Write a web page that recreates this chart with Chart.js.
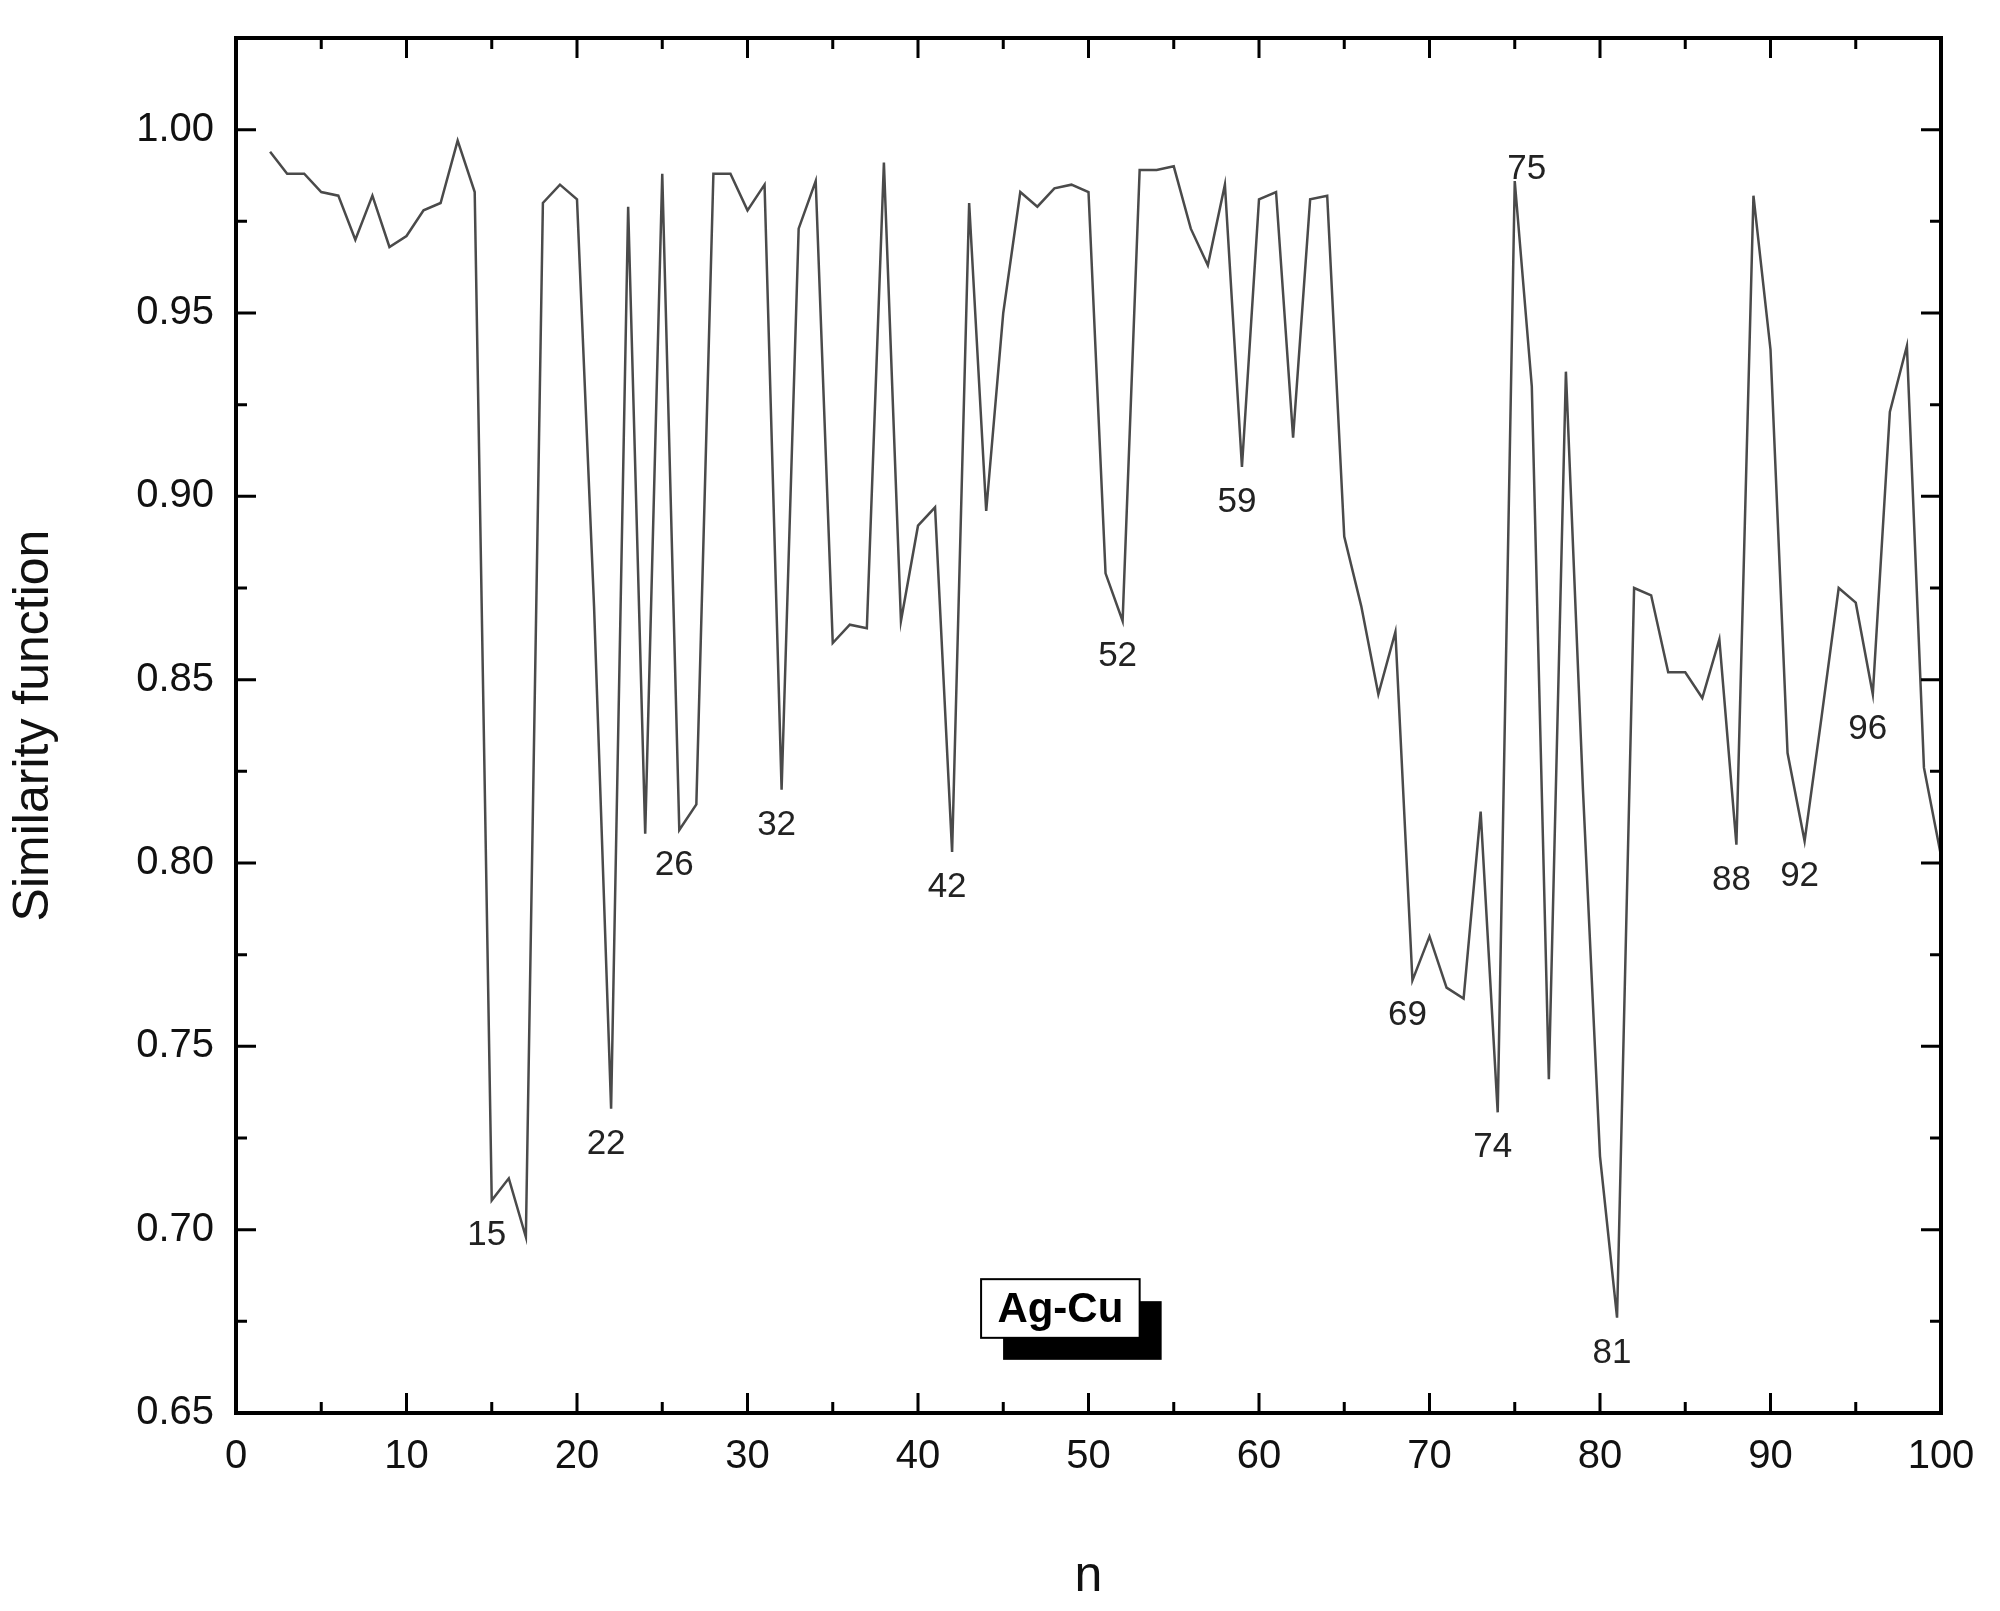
<!DOCTYPE html>
<html>
<head>
<meta charset="utf-8">
<script src="https://cdn.jsdelivr.net/npm/chart.js@4"></script>
<style>
  body { margin: 0; background: #fff; }
  canvas { display: block; }
</style>
</head>
<body>
<canvas id="chart" width="2000" height="1611"></canvas>
<script>
"use strict";

const nValues = [];
for (let n = 2; n <= 100; n++) nValues.push(n);

const similarity = [
    0.994, 0.988, 0.988, 0.983, 0.982, 0.970, 0.982, 0.968, 0.971, 0.978,
    0.980, 0.997, 0.983, 0.708, 0.714, 0.698, 0.980, 0.985, 0.981, 0.870,
    0.733, 0.979, 0.808, 0.988, 0.809, 0.816, 0.988, 0.988, 0.978, 0.985,
    0.820, 0.973, 0.986, 0.860, 0.865, 0.864, 0.991, 0.866, 0.892, 0.897,
    0.803, 0.980, 0.896, 0.950, 0.983, 0.979, 0.984, 0.985, 0.983, 0.879,
    0.866, 0.989, 0.989, 0.990, 0.973, 0.963, 0.985, 0.908, 0.981, 0.983,
    0.916, 0.981, 0.982, 0.889, 0.870, 0.846, 0.863, 0.768, 0.780, 0.766,
    0.763, 0.814, 0.732, 0.986, 0.930, 0.741, 0.934, 0.820, 0.720, 0.676,
    0.875, 0.873, 0.852, 0.852, 0.845, 0.861, 0.805, 0.982, 0.940, 0.830,
    0.806, 0.840, 0.875, 0.871, 0.846, 0.923, 0.941, 0.826, 0.802
];

const markedN = [15, 22, 26, 32, 42, 52, 59, 69, 74, 75, 81, 88, 92, 96];
const markedAbove = [75];

const xTicks = [0, 10, 20, 30, 40, 50, 60, 70, 80, 90, 100];
const yTicks = [0.65, 0.70, 0.75, 0.80, 0.85, 0.90, 0.95, 1.00];

const points = nValues.map((n, i) => ({ x: n, y: similarity[i] }));
const fontFamily = 'Arial, "Liberation Sans", sans-serif';

// inward ticks on all four sides, frame, point labels and the Ag-Cu box
const framePlugin = {
    id: 'frame',
    afterDraw(chart) {
        const ctx = chart.ctx;
        const a = chart.chartArea;
        const xs = chart.scales.x, ys = chart.scales.y;
        ctx.save();
        ctx.strokeStyle = '#000';
        ctx.lineWidth = 3;
        for (let v = 0; v <= 100; v += 5) {
            const px = xs.getPixelForValue(v);
            const len = v % 10 === 0 ? 20 : 11;
            ctx.beginPath();
            ctx.moveTo(px, a.bottom); ctx.lineTo(px, a.bottom - len);
            ctx.moveTo(px, a.top); ctx.lineTo(px, a.top + len);
            ctx.stroke();
        }
        for (let k = 0; k <= 15; k++) {
            const v = 0.65 + k * 0.025;
            const py = ys.getPixelForValue(v);
            const len = k % 2 === 0 ? 20 : 11;
            ctx.beginPath();
            ctx.moveTo(a.left, py); ctx.lineTo(a.left + len, py);
            ctx.moveTo(a.right, py); ctx.lineTo(a.right - len, py);
            ctx.stroke();
        }
        ctx.lineWidth = 4;
        ctx.strokeRect(a.left, a.top, a.right - a.left, a.bottom - a.top);

        ctx.fillStyle = '#222';
        ctx.font = '35px ' + fontFamily;
        ctx.textAlign = 'center';
        markedN.forEach(n => {
            const v = similarity[nValues.indexOf(n)];
            const px = xs.getPixelForValue(n);
            const py = ys.getPixelForValue(v);
            if (markedAbove.includes(n)) {
                ctx.textBaseline = 'bottom';
                ctx.fillText(String(n), px + 12, py + 6);
            } else {
                ctx.textBaseline = 'top';
                ctx.fillText(String(n), px - 5, py + 18);
            }
        });

        const bx0 = xs.getPixelForValue(43.7), bx1 = xs.getPixelForValue(53.0);
        const by0 = ys.getPixelForValue(0.6865), by1 = ys.getPixelForValue(0.6705);
        const off = 22;
        ctx.fillStyle = '#000';
        ctx.fillRect(bx0 + off, by0 + off, bx1 - bx0, by1 - by0);
        ctx.fillStyle = '#fff';
        ctx.fillRect(bx0, by0, bx1 - bx0, by1 - by0);
        ctx.lineWidth = 2;
        ctx.strokeRect(bx0, by0, bx1 - bx0, by1 - by0);
        ctx.fillStyle = '#000';
        ctx.font = 'bold 42px ' + fontFamily;
        ctx.textBaseline = 'middle';
        ctx.fillText('Ag-Cu', (bx0 + bx1) / 2, (by0 + by1) / 2 + 2);
        ctx.restore();
    }
};

new Chart(document.getElementById('chart'), {
    type: 'line',
    data: {
        datasets: [{
            data: points,
            borderColor: '#4a4a4a',
            borderWidth: 2.5,
            pointRadius: 0,
            tension: 0,
            fill: false
        }]
    },
    options: {
        responsive: false,
        animation: false,
        devicePixelRatio: 1,
        layout: { padding: { top: 10, right: 59, left: 0, bottom: 0 } },
        plugins: { legend: { display: false }, tooltip: { enabled: false } },
        scales: {
            x: {
                type: 'linear',
                min: 0, max: 100,
                afterBuildTicks(scale) { scale.ticks = xTicks.map(v => ({ value: v })); },
                afterFit(scale) { scale.height = 198; },
                grid: { display: false },
                border: { display: false },
                ticks: { color: '#111', padding: 12, font: { size: 40, family: fontFamily } },
                title: {
                    display: true, text: 'n', color: '#111',
                    padding: { top: 10 },
                    font: { size: 50, family: fontFamily }
                }
            },
            y: {
                min: 0.65, max: 1.025,
                afterBuildTicks(scale) { scale.ticks = yTicks.map(v => ({ value: v })); },
                afterFit(scale) { scale.width = 236; },
                grid: { display: false },
                border: { display: false },
                ticks: {
                    color: '#111', padding: 14,
                    callback: v => v.toFixed(2),
                    font: { size: 40, family: fontFamily }
                },
                title: {
                    display: true, text: 'Similarity function', color: '#111',
                    padding: { bottom: 10 },
                    font: { size: 50, family: fontFamily }
                }
            }
        }
    },
    plugins: [framePlugin]
});
</script>
</body>
</html>
